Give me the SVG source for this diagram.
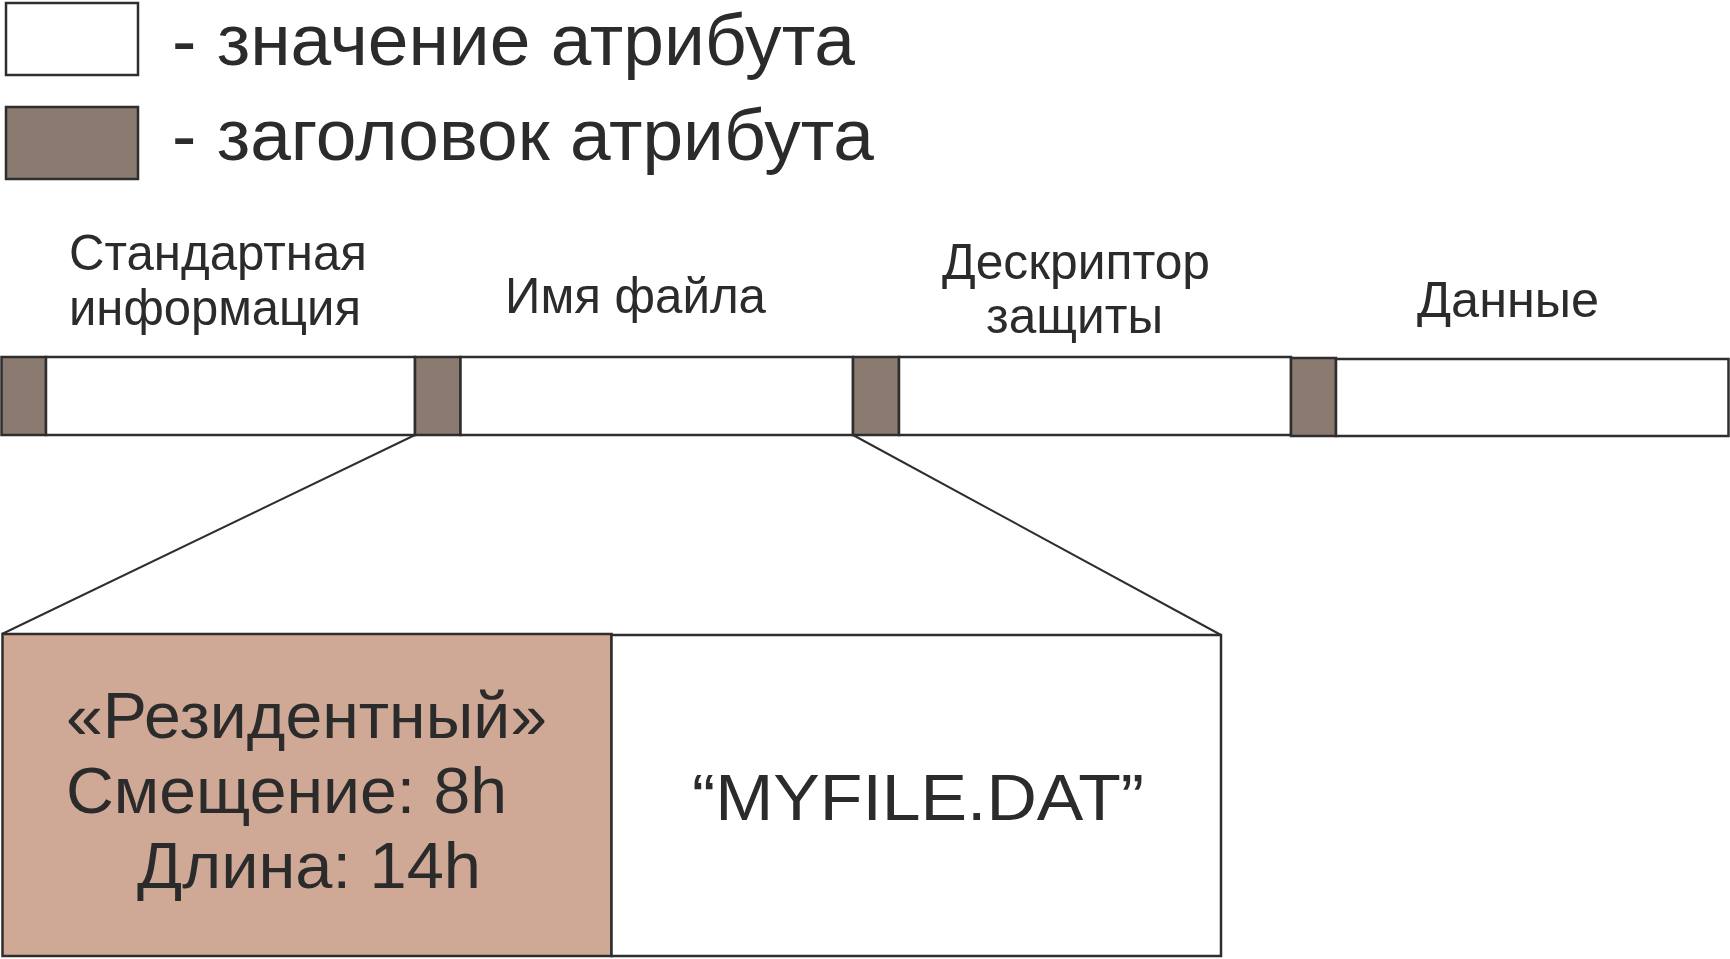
<svg xmlns="http://www.w3.org/2000/svg" width="1730" height="959" viewBox="0 0 1730 959">
<style>
.val{fill:#ffffff;stroke:#2e2e2e;stroke-width:2.5}
.hdr{fill:#8a7a70;stroke:#2e2e2e;stroke-width:2.5}
.res{fill:#cfa996;stroke:#2e2e2e;stroke-width:2.5}
.conn{fill:none;stroke:#2e2e2e;stroke-width:2}
text{font-family:"Liberation Sans",Arial,sans-serif;fill:#2b2b2b}
.leg{font-size:72px}
.lbl{font-size:50px}
.big{font-size:64px}
</style>
<rect width="1730" height="959" fill="#ffffff"/>
<g id="legend">
<rect class="val" x="6" y="3" width="132" height="72"/>
<text class="leg" x="172" y="65" textLength="683" lengthAdjust="spacingAndGlyphs">- значение атрибута</text>
<rect class="hdr" x="6" y="107" width="132" height="72"/>
<text class="leg" x="172" y="160" textLength="702" lengthAdjust="spacingAndGlyphs">- заголовок атрибута</text>
</g>
<g id="labels">
<text class="lbl" x="69" y="270" textLength="298" lengthAdjust="spacingAndGlyphs">Стандартная</text>
<text class="lbl" x="69" y="325" textLength="292" lengthAdjust="spacingAndGlyphs">информация</text>
<text class="lbl" x="505" y="313" textLength="261" lengthAdjust="spacingAndGlyphs">Имя файла</text>
<text class="lbl" x="942" y="279" textLength="268" lengthAdjust="spacingAndGlyphs">Дескриптор</text>
<text class="lbl" x="986" y="333" textLength="177" lengthAdjust="spacingAndGlyphs">защиты</text>
<text class="lbl" x="1417" y="317" textLength="182" lengthAdjust="spacingAndGlyphs">Данные</text>
</g>
<g id="attr-std">
<rect class="hdr" x="1.5" y="357" width="44.5" height="78"/>
<rect class="val" x="46" y="357" width="369" height="78"/>
</g>
<g id="attr-name">
<rect class="hdr" x="415" y="357" width="45.5" height="78"/>
<rect class="val" x="460.5" y="357" width="392.5" height="78"/>
</g>
<g id="attr-sec">
<rect class="hdr" x="853" y="357" width="46" height="78"/>
<rect class="val" x="899" y="357" width="392" height="78"/>
</g>
<g id="attr-data">
<rect class="hdr" x="1291" y="358" width="45" height="78"/>
<rect class="val" x="1336" y="359" width="392.5" height="77"/>
</g>
<g id="connectors">
<line class="conn" x1="415" y1="435" x2="2" y2="634"/>
<line class="conn" x1="853" y1="435" x2="1221" y2="635"/>
</g>
<g id="resident-header">
<rect class="res" x="2.5" y="634" width="609" height="322"/>
<text class="big" x="66" y="738" textLength="481" lengthAdjust="spacingAndGlyphs">«Резидентный»</text>
<text class="big" x="66" y="813" textLength="441" lengthAdjust="spacingAndGlyphs">Смещение: 8h</text>
<text class="big" x="137" y="888" textLength="344" lengthAdjust="spacingAndGlyphs">Длина: 14h</text>
</g>
<g id="resident-value">
<rect class="val" x="611.5" y="635" width="609.5" height="321"/>
<text class="big" x="692" y="820" textLength="452" lengthAdjust="spacingAndGlyphs">“MYFILE.DAT”</text>
</g>
</svg>
